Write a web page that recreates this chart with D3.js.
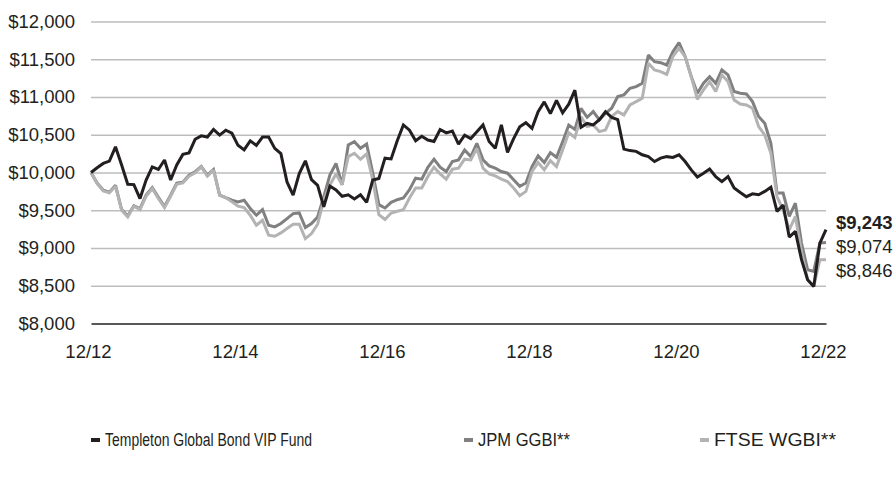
<!DOCTYPE html>
<html>
<head>
<meta charset="utf-8">
<script src="https://cdn.jsdelivr.net/npm/d3@7"></script>
<style>
  body { margin: 0; background: #fff; }
  text { fill: #231f20; }
</style>
</head>
<body>
<div id="chart"></div>
<script>
// month-end values of a $10,000 investment, 12/12 .. 12/22
const tickLabels = ["12/12", "12/14", "12/16", "12/18", "12/20", "12/22"];
const yTicks = [8000, 8500, 9000, 9500, 10000, 10500, 11000, 11500, 12000];
const seriesNames = ["Templeton Global Bond VIP Fund", "JPM GGBI**", "FTSE WGBI**"];
const endLabels = ["$9,243", "$9,074", "$8,846"];

const templeton = [
  10000, 10062, 10120, 10150, 10340, 10100, 9845, 9840, 9655, 9900, 10075, 10040,
  10165, 9900, 10100, 10240, 10260, 10440, 10485, 10470, 10570, 10495, 10560, 10520,
  10360, 10300, 10420, 10360, 10470, 10470, 10320, 10250, 9875, 9700, 9985, 10155,
  9905, 9830, 9545, 9820, 9770, 9685, 9705, 9650, 9705, 9605, 9900, 9920,
  10190, 10180, 10420, 10630, 10560, 10420, 10480, 10430, 10410, 10570, 10525, 10550,
  10375, 10495, 10450, 10540, 10630, 10410, 10320, 10630, 10265, 10450, 10605, 10660,
  10585, 10805, 10935, 10780, 10955, 10790, 10905, 11090, 10600, 10650, 10630, 10700,
  10805, 10730, 10700, 10310, 10290, 10280, 10235, 10210, 10145, 10190, 10210, 10200,
  10235, 10145, 10035, 9940, 9990, 10045, 9945, 9880, 9945, 9795, 9735, 9680,
  9718, 9705, 9750, 9805, 9485, 9570, 9145, 9220, 8845, 8580, 8490, 9065,
  9243
];

const jpm = [
  10000, 9860, 9765, 9740, 9830, 9510, 9425, 9560, 9520, 9700, 9800, 9670,
  9550, 9700, 9860, 9870, 9965, 10010, 10080, 9965, 10040, 9700, 9668, 9633,
  9611, 9633, 9523, 9434, 9509, 9302, 9280, 9324, 9390, 9456, 9465, 9271,
  9324, 9412, 9677, 9965, 10120, 9838, 10364, 10408, 10320, 10378, 9991, 9574,
  9530, 9605, 9640, 9662, 9772, 9925, 9912, 10070, 10176, 10070, 10013, 10145,
  10167, 10299, 10211, 10386, 10167, 10088, 10057, 10013, 9991, 9903, 9816, 9860,
  10079, 10220, 10132, 10263, 10202, 10408, 10628, 10571, 10850, 10732, 10807, 10697,
  10785, 10851, 11005, 11028, 11116, 11138, 11182, 11557, 11468, 11455, 11424, 11600,
  11720, 11535, 11270, 11050, 11182, 11270, 11182, 11358, 11292, 11072, 11050, 11041,
  10939, 10741, 10653, 10388, 9727, 9727, 9418, 9594, 9065, 8712, 8690, 9065,
  9074
];

const ftse = [
  10000, 9854, 9757, 9730, 9819, 9500, 9412, 9554, 9509, 9686, 9788, 9655,
  9536, 9686, 9845, 9863, 9951, 9996, 10075, 9951, 10031, 9700, 9668, 9611,
  9554, 9536, 9434, 9302, 9368, 9170, 9156, 9200, 9257, 9315, 9315, 9125,
  9191, 9315, 9633, 9835, 9980, 9838, 10211, 10255, 10176, 10246, 9903, 9442,
  9377, 9464, 9486, 9508, 9662, 9794, 9794, 9947, 10070, 9982, 9912, 10044,
  10057, 10176, 10167, 10320, 10057, 9982, 9956, 9912, 9881, 9794, 9693, 9750,
  10013, 10132, 10035, 10158, 10079, 10299, 10527, 10465, 10740, 10608, 10630, 10542,
  10564, 10741, 10807, 10763, 10895, 10939, 10983, 11446, 11358, 11336, 11300, 11535,
  11645, 11535, 11270, 10970, 11094, 11204, 11072, 11292, 11204, 10961, 10908, 10895,
  10851, 10608, 10498, 10256, 9682, 9506, 9241, 9418, 8955, 8580, 8492, 8845,
  8846
];

const width = 896, height = 479;
const colors = ["#231f20", "#808080", "#b3b3b3"];

const x = d3.scaleLinear().domain([0, templeton.length - 1]).range([91, 826]);
const y = d3.scaleLinear().domain([8000, 12000]).range([323.5, 21.5]);

const svg = d3.select("#chart").append("svg")
  .attr("width", width)
  .attr("height", height)
  .attr("font-family", "'Liberation Sans', Arial, sans-serif");

// gridlines
svg.append("g")
  .attr("transform", `translate(${x.range()[0]},0)`)
  .call(d3.axisLeft(y).tickValues(yTicks.slice(1)).tickSize(-(x.range()[1] - x.range()[0])).tickFormat(""))
  .call(g => g.select(".domain").remove())
  .call(g => g.selectAll("line").attr("stroke", "#bdbdbd").attr("stroke-width", 1.4));

// y labels
svg.append("g")
  .attr("transform", `translate(${x.range()[0]},0)`)
  .call(d3.axisLeft(y).tickValues(yTicks).tickSize(0).tickPadding(16).tickFormat(d => "$" + d3.format(",")(d)))
  .call(g => g.select(".domain").remove())
  .call(g => g.selectAll("text").attr("font-size", 18.5).attr("fill", "#231f20"));

// x axis (baseline at $8,000)
svg.append("g")
  .attr("transform", `translate(0,${y(8000)})`)
  .call(d3.axisBottom(x).tickValues(d3.range(0, 121, 24)).tickSize(0).tickPadding(21).tickFormat((d, i) => tickLabels[i]))
  .call(g => g.select(".domain").attr("stroke", "#231f20").attr("stroke-width", 1.6))
  .call(g => g.selectAll("text").attr("font-size", 18.5).attr("fill", "#231f20").attr("dx", -3));

const line = d3.line()
  .x((d, i) => x(i))
  .y(d => y(d));

const series = [jpm, ftse, templeton];
const seriesColors = [colors[1], colors[2], colors[0]];

svg.append("g")
  .selectAll("path")
  .data(series)
  .join("path")
  .attr("d", line)
  .attr("fill", "none")
  .attr("stroke", (d, i) => seriesColors[i])
  .attr("stroke-width", 3)
  .attr("stroke-linejoin", "miter")
  .attr("stroke-miterlimit", 2);

// end value labels
const endY = [229, 253, 277];
svg.append("g")
  .selectAll("text")
  .data(endLabels)
  .join("text")
  .attr("x", 836)
  .attr("y", (d, i) => endY[i])
  .attr("font-size", 18.5)
  .attr("font-weight", (d, i) => i === 0 ? "bold" : "normal")
  .text(d => d);

// legend (condensed text like the original)
const legendX = [91, 464, 700];
const legendW = [207, 92, 122];
const legend = svg.append("g")
  .selectAll("g")
  .data(seriesNames)
  .join("g")
  .attr("transform", (d, i) => `translate(${legendX[i]},440)`);

legend.append("line")
  .attr("x1", 0)
  .attr("x2", 9)
  .attr("stroke", (d, i) => colors[i])
  .attr("stroke-width", 4);

legend.append("text")
  .attr("x", 14)
  .attr("dy", "0.35em")
  .attr("font-size", 18)
  .attr("textLength", (d, i) => legendW[i])
  .attr("lengthAdjust", "spacingAndGlyphs")
  .text(d => d);
</script>
</body>
</html>
